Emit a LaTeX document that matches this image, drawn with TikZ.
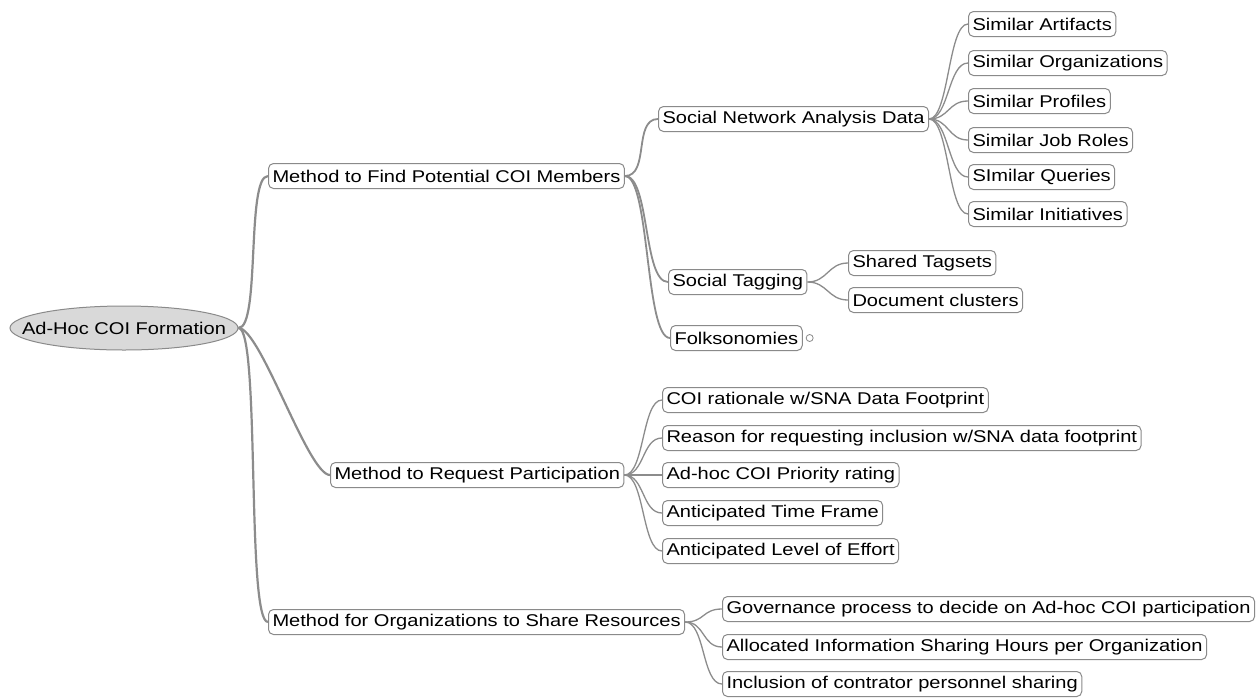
\documentclass[tikz,border=0pt]{standalone}
\usepackage{fontspec}
\setmainfont{Liberation Sans}[FakeStretch=1.18]
\usetikzlibrary{shapes.geometric,backgrounds}
\definecolor{boxgray}{HTML}{8A8A8A}
\definecolor{edgegray}{HTML}{8C8C8C}
\definecolor{rootfill}{HTML}{D9D9D9}
\begin{document}
\begin{tikzpicture}[x=1pt,y=-1pt,
  box/.style={draw=boxgray, fill=white, rounded corners=5pt, line width=1pt, anchor=west,
    minimum height=25pt, inner xsep=4pt, inner ysep=0pt, font=\fontsize{17}{19}\selectfont, text=black},
  rootnode/.style={ellipse, draw=boxgray, fill=rootfill, line width=1pt, minimum width=228pt,
    minimum height=44pt, inner sep=0pt, font=\fontsize{17}{19}\selectfont},
  e0/.style={draw=edgegray, line width=2.2pt},
  e1/.style={draw=edgegray, line width=1.8pt},
  e2/.style={draw=edgegray, line width=1.3pt},
  knob/.style={circle, draw=boxgray, fill=white, line width=0.8pt, minimum size=7pt, inner sep=0pt, anchor=west}]
\useasboundingbox (0,0) rectangle (1257,697);

\node[rootnode] (root) at (124,328) {\makebox[158pt]{Ad-Hoc COI Formation}};

\node[box] (m1) at (268,176) {Method to Find Potential COI Members};
\node[box] (m2) at (330,475) {Method to Request Participation};
\node[box] (m3) at (268,622) {Method for Organizations to Share Resources};

\node[box] (sna) at (658,119) {Social Network Analysis Data};
\node[box] (tag) at (668,282) {Social Tagging};
\node[box] (folk) at (670,338) {Folksonomies};
\node[knob] (fk) at ([xshift=3pt]folk.east) {};

\node[box] (s1) at (968,24) {Similar Artifacts};
\node[box] (s2) at (968,63) {Similar Organizations};
\node[box] (s3) at (968,101) {Similar Profiles};
\node[box] (s4) at (968,140) {Similar Job Roles};
\node[box] (s5) at (968,177) {SImilar Queries};
\node[box] (s6) at (968,214) {Similar Initiatives};

\node[box] (t1) at (848,263) {Shared Tagsets};
\node[box] (t2) at (848,300) {Document clusters};

\node[box] (r1) at (662,400) {COI rationale w/SNA Data Footprint};
\node[box] (r2) at (662,438) {Reason for requesting inclusion w/SNA data footprint};
\node[box] (r3) at (662,475) {Ad-hoc COI Priority rating};
\node[box] (r4) at (662,513) {Anticipated Time Frame};
\node[box] (r5) at (662,551) {Anticipated Level of Effort};

\node[box] (g1) at (722,609) {Governance process to decide on Ad-hoc COI participation};
\node[box] (g2) at (722,647) {Allocated Information Sharing Hours per Organization};
\node[box] (g3) at (722,684) {Inclusion of contrator personnel sharing};

\begin{pgfonlayer}{background}
\fill[white] (0,0) rectangle (1257,697);
\foreach \c in {m1,m2,m3}
  \draw[e0] (root.east) .. controls +(22,0) and +(-22,0) .. (\c.west);
\foreach \c in {sna,tag,folk}
  \draw[e1] (m1.east) .. controls +(25,0) and +(-25,0) .. (\c.west);
\foreach \c in {s1,s2,s3,s4,s5,s6}
  \draw[e2] (sna.east) .. controls +(20,0) and +(-20,0) .. (\c.west);
\foreach \c in {t1,t2}
  \draw[e2] (tag.east) .. controls +(20,0) and +(-20,0) .. (\c.west);
\foreach \c in {r1,r2,r3,r4,r5}
  \draw[e2] (m2.east) .. controls +(20,0) and +(-20,0) .. (\c.west);
\foreach \c in {g1,g2,g3}
  \draw[e2] (m3.east) .. controls +(20,0) and +(-20,0) .. (\c.west);
\end{pgfonlayer}
\end{tikzpicture}
\end{document}
